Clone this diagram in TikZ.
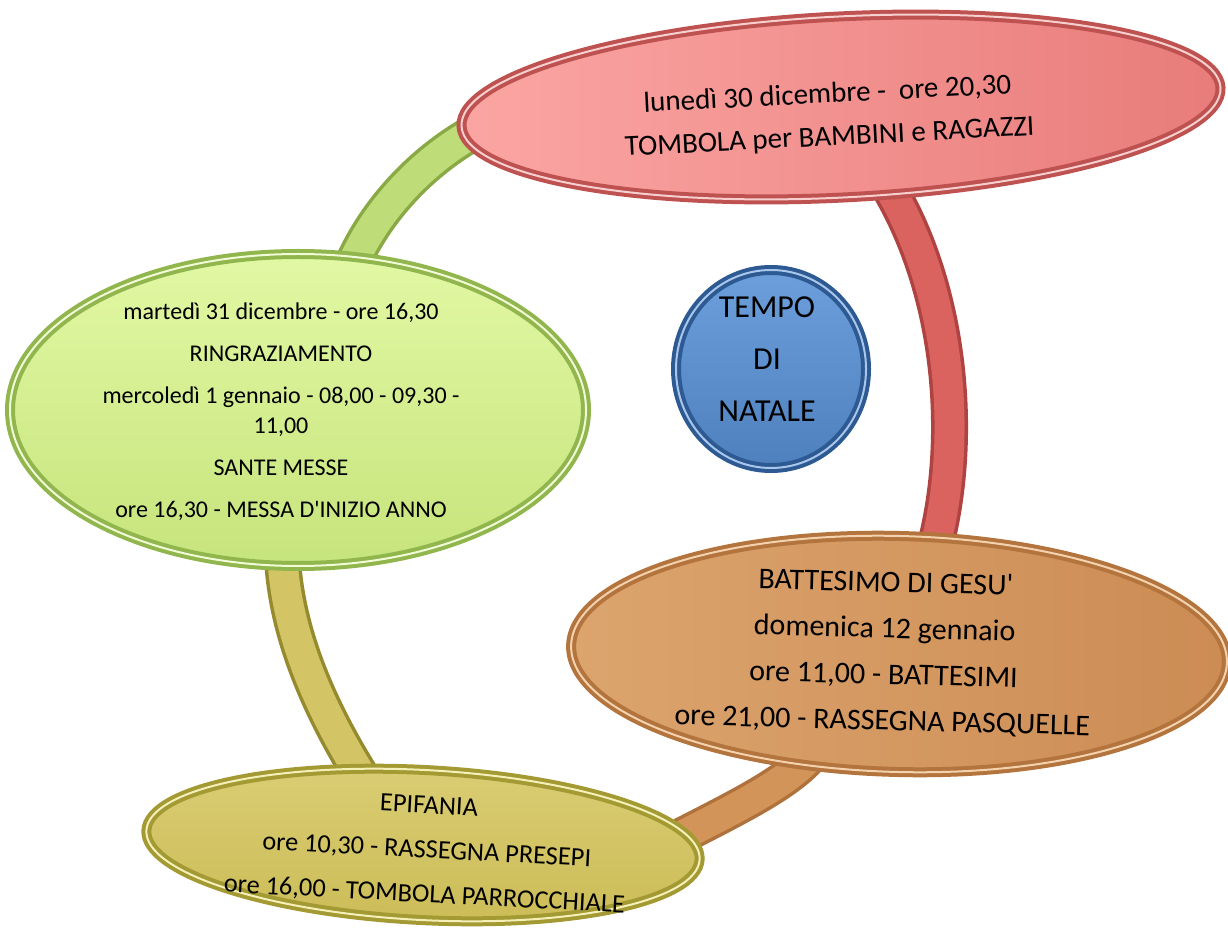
\documentclass[tikz,border=0pt]{standalone}
\usepackage{fontspec}
\setmainfont{Carlito}
\usetikzlibrary{shapes.geometric,calc}
\pgfdeclarelayer{bg}
\pgfsetlayers{bg,main}
\newdimen\px \px=0.01cm
\newcommand\btext[3]{\raisebox{#2}[0pt][0pt]{\makebox[0pt]{\hspace*{#1}\hspace*{#1}\begin{tabular}{@{}c@{}}#3\end{tabular}}}}
\definecolor{redL}{HTML}{FBA6A4}
\definecolor{redR}{HTML}{E87C7A}
\definecolor{redrim}{HTML}{BE5250}
\definecolor{redhi}{HTML}{F7CFCE}
\definecolor{grnT}{HTML}{E2F8A4}
\definecolor{grnB}{HTML}{C6E47C}
\definecolor{grnrim}{HTML}{92B64E}
\definecolor{grnhi}{HTML}{F1FBD6}
\definecolor{bluT}{HTML}{6C9FDC}
\definecolor{bluB}{HTML}{4F80BE}
\definecolor{blurim}{HTML}{2D5A92}
\definecolor{bluhi}{HTML}{A9C6EC}
\definecolor{orgL}{HTML}{DCA46E}
\definecolor{orgR}{HTML}{CC8C54}
\definecolor{orgrim}{HTML}{B3743E}
\definecolor{orghi}{HTML}{F4D2AE}
\definecolor{oliT}{HTML}{DACD74}
\definecolor{oliB}{HTML}{CCBD58}
\definecolor{olirim}{HTML}{A39A34}
\definecolor{olihi}{HTML}{F5EFB8}
\definecolor{bGreen}{HTML}{BEDC78}
\definecolor{bGreenE}{HTML}{88A944}
\definecolor{bRed}{HTML}{DA625F}
\definecolor{bRedE}{HTML}{AE4341}
\definecolor{bOrg}{HTML}{D39459}
\definecolor{bOrgE}{HTML}{B0723C}
\definecolor{bOli}{HTML}{D3C566}
\definecolor{bOliE}{HTML}{958B2E}
\tikzset{
  bubble/.style={ellipse, inner sep=0pt, line width=4\px, double distance=2\px},
  band/.style 2 args={draw=#1, line width=30\px, preaction={draw=#2, line width=37\px}}
}
\begin{document}
\begin{tikzpicture}[x=0.01cm,y=-0.01cm]
\useasboundingbox (0,0) rectangle (1228,934);
\node[bubble, rotate=2.9, minimum width=760\px, minimum height=181\px, draw=redrim, double=redhi,
  left color=redL, right color=redR, font=\fontsize{8.25pt}{12.2pt}\selectfont] (red) at (841,107)
  {\btext{-13\px}{-15\px}{lunedì 30 dicembre -\ \ ore 20,30\\TOMBOLA per BAMBINI e RAGAZZI}};
\node[bubble, minimum width=576\px, minimum height=312\px, draw=grnrim, double=grnhi,
  top color=grnT, bottom color=grnB, font=\fontsize{6.83pt}{8.54pt}\selectfont] (green) at (298,410)
  {\btext{-17\px}{-9\px}{martedì 31 dicembre - ore 16,30\\[12\px]RINGRAZIAMENTO\\[12\px]mercoledì 1 gennaio - 08,00 - 09,30 -\\11,00\\[12\px]SANTE MESSE\\[12\px]ore 16,30 - MESSA D\textquotesingle INIZIO ANNO}};
\node[bubble, rotate=-1.5, minimum width=656\px, minimum height=236\px, draw=orgrim, double=orghi,
  left color=orgL, right color=orgR, font=\fontsize{8.54pt}{13.1pt}\selectfont] (orange) at (899,654)
  {\btext{-15\px}{-6\px}{BATTESIMO DI GESU\textquotesingle\\domenica 12 gennaio\\ore 11,00 - BATTESIMI\\ore 21,00 - RASSEGNA PASQUELLE}};
\node[bubble, rotate=-3, minimum width=554\px, minimum height=150\px, draw=olirim, double=olihi,
  top color=oliT, bottom color=oliB, font=\fontsize{7.5pt}{12.66pt}\selectfont] (olive) at (423,845)
  {\btext{4\px}{-10\px}{EPIFANIA\\ore 10,30 - RASSEGNA PRESEPI\\ore 16,00 - TOMBOLA PARROCCHIALE}};
\node[bubble, minimum width=190\px, minimum height=198\px, draw=blurim, double=bluhi,
  top color=bluT, bottom color=bluB, font=\fontsize{9.1pt}{14.8pt}\selectfont] (center) at (771,369)
  {\btext{-4\px}{2\px}{TEMPO\\DI\\NATALE}};
\begin{pgfonlayer}{bg}
\draw[band={bGreen}{bGreenE}] ([shift={(45,-120)}]green.center) .. controls (365,215) and (435,140) .. ([shift={(-321,5)}]red.center);
\draw[band={bRed}{bRedE}] ([shift={(37,63)}]red.center) .. controls (958,290) and (965,460) .. ([shift={(29,-84)}]orange.center);
\draw[band={bOrg}{bOrgE}] ([shift={(-84,96)}]orange.center) .. controls (790,785) and (720,815) .. ([shift={(232,5)}]olive.center);
\draw[band={bOli}{bOliE}] ([shift={(-16,135)}]green.center) .. controls (283,640) and (330,730) .. ([shift={(-43,-40)}]olive.center);
\end{pgfonlayer}
\end{tikzpicture}
\end{document}
